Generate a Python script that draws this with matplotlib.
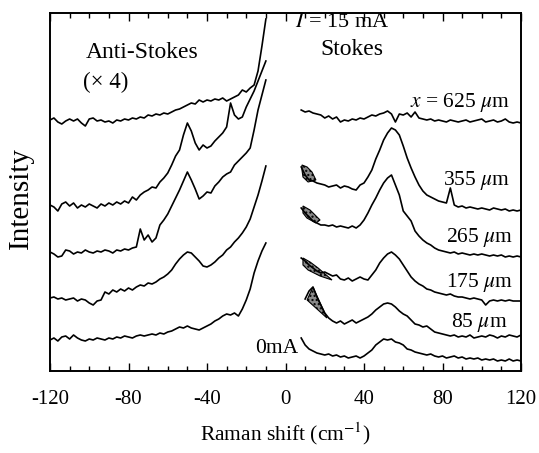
import numpy as np
import matplotlib
matplotlib.use("Agg")
import matplotlib.pyplot as plt
from matplotlib.ticker import MultipleLocator

plt.rcParams['font.family'] = ['Liberation Serif', 'DejaVu Serif']
plt.rcParams['mathtext.fontset'] = 'stix'
plt.rcParams['axes.unicode_minus'] = False

# Raman shift grids (cm-1)
x_as = np.arange(-120, -9, 2)   # anti-Stokes side
x_s = np.arange(8, 121, 2)      # Stokes side

# anti-Stokes intensities (x4), arbitrary units with offsets
as_625 = [251, 253, 249, 247, 250, 252, 250, 252, 248, 245,
          252, 253, 250, 251, 249, 250, 248, 251, 250, 252,
          251, 253, 252, 254, 253, 256, 255, 257, 256, 258,
          257, 259, 261, 262, 264, 266, 268, 267, 271, 269,
          271, 270, 272, 271, 273, 270, 272, 274, 276, 281,
          279, 283, 286, 300, 325, 352]
as_355 = [166, 164, 160, 167, 169, 165, 168, 163, 166, 164,
          167, 165, 163, 167, 165, 168, 166, 169, 167, 170,
          168, 174, 171, 176, 179, 181, 184, 183, 189, 193,
          198, 206, 215, 221, 236, 248, 240, 228, 221, 226,
          223, 225, 230, 234, 238, 244, 268, 256, 252, 254,
          264, 272, 280, 290, 300, 310]
as_265 = [119, 117, 114, 115, 121, 120, 117, 119, 118, 121,
          119, 118, 120, 119, 121, 120, 118, 121, 120, 122,
          121, 123, 124, 142, 131, 136, 129, 133, 146, 151,
          157, 165, 173, 181, 190, 199, 191, 182, 172, 175,
          179, 178, 185, 189, 194, 197, 199, 206, 210, 214,
          218, 223, 241, 261, 276, 291]
as_175 = [73, 74, 72, 73, 71, 72, 73, 70, 72, 71,
          68, 66, 70, 71, 79, 77, 81, 79, 82, 80,
          83, 81, 84, 86, 85, 88, 87, 89, 92, 94,
          97, 101, 107, 112, 116, 119, 118, 114, 110, 105,
          104, 106, 109, 113, 116, 121, 124, 129, 133, 138,
          144, 152, 164, 176, 190, 205]
as_0ma = [31, 33, 30, 34, 35, 32, 36, 33, 31, 30,
          32, 31, 33, 32, 31, 33, 32, 34, 33, 35,
          34, 33, 35, 36, 35, 36, 37, 36, 38, 37,
          39, 40, 42, 44, 43, 45, 43, 42, 41, 43,
          45, 47, 50, 52, 55, 57, 56, 58, 55, 62,
          71, 82, 98, 110, 120, 128]

# Stokes intensities
s_625 = [261, 259, 260, 258, 257, 256, 253, 255, 252, 254,
         249, 251, 250, 252, 251, 253, 252, 254, 256, 255,
         257, 258, 260, 257, 249, 257, 256, 258, 254, 259,
         253, 252, 251, 252, 250, 251, 250, 249, 251, 250,
         249, 250, 251, 249, 250, 251, 252, 249, 250, 251,
         249, 250, 252, 249, 248, 249, 248]
s_355 = [204, 196, 191, 190, 188, 187, 186, 184, 185, 186,
         183, 185, 184, 182, 181, 186, 188, 194, 201, 212,
         221, 231, 238, 243, 241, 236, 225, 213, 203, 194,
         186, 180, 176, 174, 172, 170, 169, 168, 183, 166,
         164, 165, 163, 164, 163, 162, 163, 162, 161, 163,
         162, 161, 162, 160, 161, 160, 161]
s_265 = [163, 158, 154, 150, 148, 146, 146, 145, 146, 144,
         145, 144, 143, 145, 143, 146, 151, 158, 166, 173,
         181, 188, 193, 196, 186, 176, 160, 155, 150, 140,
         135, 131, 128, 126, 123, 121, 120, 119, 118, 119,
         117, 118, 117, 116, 117, 116, 117, 116, 115, 116,
         115, 116, 114, 115, 114, 115, 114]
s_175 = [113, 110, 106, 103, 100, 98, 99, 97, 95, 96,
         92, 91, 93, 90, 92, 94, 92, 91, 96, 101,
         108, 113, 117, 119, 116, 112, 106, 100, 94, 90,
         87, 85, 82, 81, 79, 78, 77, 76, 77, 75,
         74, 74, 73, 72, 73, 72, 71, 66, 70, 71,
         70, 71, 70, 71, 70, 70, 70]
s_85 = [np.nan, 72, 80, 84, 74, 66, 58, 53, 50, 48,
        50, 47, 49, 51, 48, 50, 52, 54, 57, 61,
        64, 67, 68, 67, 64, 60, 57, 55, 51, 47,
        46, 44, 45, 42, 39, 38, 37, 36, 35, 36,
        34, 35, 34, 36, 33, 34, 35, 34, 36, 35,
        33, 35, 34, 36, 35, 34, 36]
s_0ma = [33, 26, 22, 20, 18, 17, 16, 17, 15, 16,
         14, 15, 13, 14, 15, 13, 15, 18, 21, 26,
         29, 32, 31, 32, 29, 28, 26, 22, 21, 19,
         18, 17, 16, 17, 15, 14, 15, 13, 14, 15,
         13, 14, 12, 13, 12, 13, 11, 12, 11, 12,
         10, 11, 10, 12, 10, 11, 10]

# shaded laser-line residue near the Stokes start
blobs = [
    ([8.4, 11.0, 13.5, 15.5, 11.5, 8.9, 8.4], [206, 204, 199, 191, 189, 194, 201]),
    ([8.9, 12.5, 17.6, 15.5, 10.9, 8.9], [165, 161, 151, 148, 153, 158]),
    ([8.9, 12.5, 16.6, 23.7, 17.6, 11.5, 8.9], [113, 109, 103, 91, 95, 101, 106]),
    ([11.0, 14.0, 21.1], [71, 84, 53]),
]

labels = ['$x$ = 625 $\\mu$m', '355 $\\mu$m', '265 $\\mu$m', '175 $\\mu$m', '85 $\\mu$m']
label_x = [114.4, 114.4, 116, 116, 113.4]
label_y = [264, 186, 129, 84, 44]

fig = plt.figure(figsize=(5.39, 4.53), dpi=100)
ax = fig.add_axes([50/539, 82/453, 471/539, 358/453])

for y in [as_625, as_355, as_265, as_175, as_0ma]:
    ax.plot(x_as, y, color='black', lw=1.2)
for y in [s_625, s_355, s_265, s_175, s_85, s_0ma]:
    ax.plot(x_s, y, color='black', lw=1.2)
for bx, by in blobs:
    ax.fill(bx, by, facecolor='#8a8a8a', edgecolor='black', hatch='....', lw=0.8)

fs = 15.5
ax.text(-102, 313, 'Anti-Stokes', fontsize=17)
ax.text(-103, 283, '(× 4)', fontsize=16.5)
ax.text(4.8, 344, '$I$ = 15 mA', fontsize=16)
ax.text(17.6, 316, 'Stokes', fontsize=17)
for t, lx, ly in zip(labels, label_x, label_y):
    ax.text(lx, ly, t, fontsize=fs, ha='right')
ax.text(-15.5, 18, '0mA', fontsize=fs)

ax.set_xlim(-120, 120)
ax.set_ylim(0, 358)
ax.set_xticks([-120, -80, -40, 0, 40, 80, 120])
ax.set_xticklabels(['-120', '-80', '-40', '0', '40', '80', '120'])
ax.xaxis.set_minor_locator(MultipleLocator(10))
ax.set_yticks([])
ax.tick_params(axis='x', which='both', direction='in', top=True, labelsize=15, pad=14, width=1)
ax.tick_params(axis='x', which='major', length=6)
ax.tick_params(axis='x', which='minor', length=3.5)
for s in ax.spines.values():
    s.set_linewidth(1.4)

ax.set_xlabel('Raman shift (cm$^{-1}$)', fontsize=15.5, labelpad=8)
ax.set_ylabel('Intensity', fontsize=21)
ax.yaxis.set_label_coords(-0.034, 0.483)

fig.savefig('out.png', dpi=100)
